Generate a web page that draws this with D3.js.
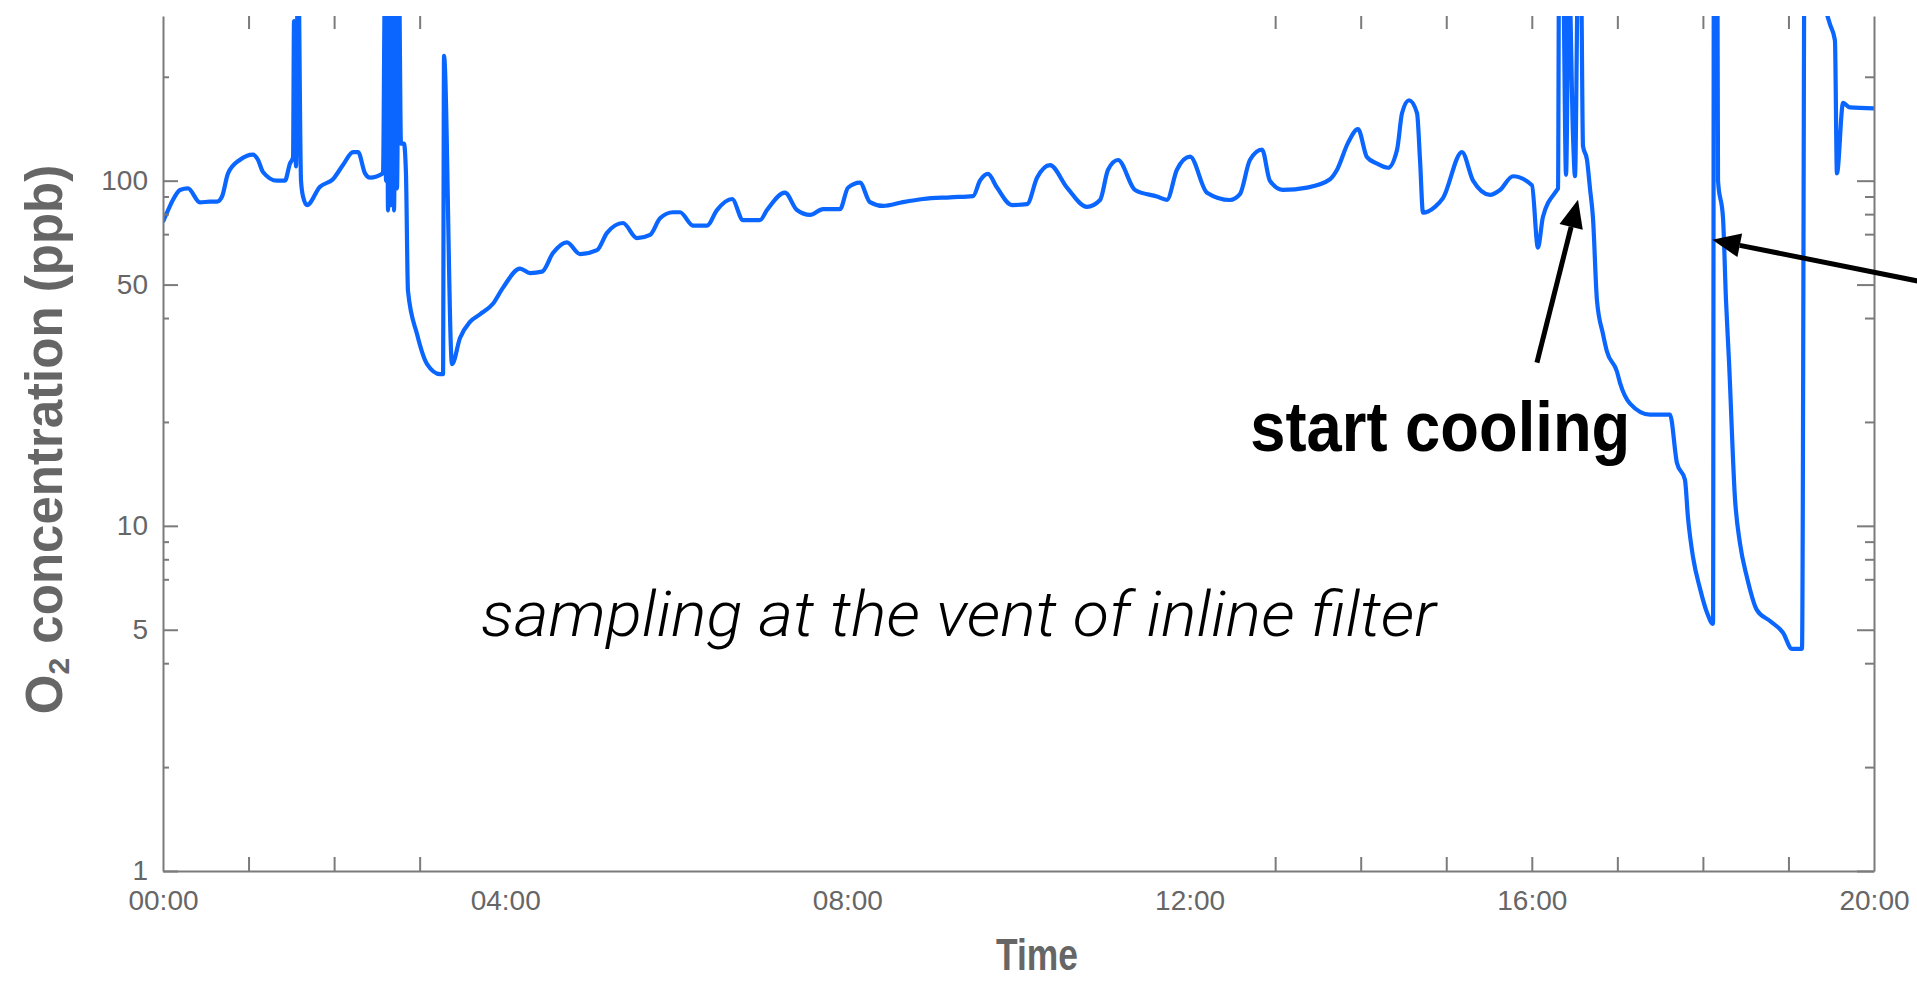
<!DOCTYPE html>
<html>
<head>
<meta charset="utf-8">
<script src="https://cdn.jsdelivr.net/npm/d3@7"></script>
<style>
  body { margin: 0; background: #fff; }
</style>
</head>
<body>
<div id="d3-container"></div>
<script>
// minutes since 00:00
const timeMin = [
  0, 3.5, 7.0, 11.9, 17.5, 25.9, 32.9, 37.9, 41.4, 45.6, 54.0, 63.1, 66.6, 70.1, 79.9, 85.5, 89.0, 91.2,
  91.9, 93.3, 94.7, 96.8, 98.2, 101.0, 110.1, 119.2, 126.2, 133.3, 136.8, 141.7, 145.2, 154.3,
  155.7, 156.4, 157.1, 157.8, 159.2, 159.9, 161.3, 162.0, 163.4, 164.1, 165.5, 166.9, 169.0, 170.4,
  171.8, 178.1, 185.2, 194.3, 196.4, 197.1, 202.7, 208.3, 215.3, 222.3, 231.4, 238.5, 250.4, 257.4,
  265.8, 273.5, 283.3, 292.5, 304.4, 311.4, 322.6, 332.4, 341.6, 348.6, 357.7, 362.6, 371.7, 381.5,
  388.5, 399.1, 406.8, 418.7, 423.6, 436.2, 444.6, 453.8, 462.9, 474.8, 480.4, 488.8, 495.8, 505.0,
  519.0, 533.0, 552.0, 568.1, 573.0, 578.6, 584.9, 595.4, 606.0, 613.0, 622.1, 634.0, 648.0, 657.2,
  662.8, 669.8, 681.7, 697.1, 704.1, 711.1, 720.3, 732.2, 748.3, 755.3, 762.3, 770.8, 776.3, 785.5,
  802.3, 818.5, 823.4, 831.1, 838.1, 844.4, 851.5, 859.1, 865.5, 869.0, 873.9, 879.5, 881.6, 883.7,
  892.1, 897.7, 911.0, 918.8, 930.7, 937.7, 946.8, 960.1, 964.3, 967.8, 977.7, 978.4, 979.1, 981.9,
  984.0, 986.1, 988.9, 990.3, 992.4, 994.5, 995.9, 998.7, 1000.8, 1002.9, 1005.7, 1009.9, 1012.7,
  1019.7, 1021.8, 1028.9, 1042.9, 1056.9, 1061.8, 1067.4, 1069.5, 1073.1, 1077.9, 1082.9, 1087.1,
  1087.8, 1089.9, 1090.6, 1094.1, 1096.2, 1098.3, 1102.5, 1106.0, 1110.9, 1117.9, 1127.1, 1136.2,
  1142.5, 1149.5, 1151.6, 1165.6, 1169.1, 1172.6, 1174.0, 1178.3, 1183.1, 1200.0
];

// O2 concentration, ppb
const o2ppb = [
  76, 82, 88, 94, 95, 86.5, 87, 87, 90, 105, 115, 119, 115, 106, 100, 100, 112, 117,
  290, 110, 500, 100, 90, 85, 96, 101, 111, 121, 121, 105, 102, 105,
  400, 100, 400, 82, 400, 85, 400, 82, 400, 95, 400, 128, 128, 105,
  48, 36, 29.4, 27.5, 27.5, 230, 29.4, 35, 39, 41, 44, 49, 55.6, 54,
  54.5, 61.7, 66.3, 61.3, 62.9, 70.6, 75.4, 68.2, 69.7, 77.8, 81, 81, 74.1, 74.1,
  82.2, 88.5, 76.9, 76.9, 82.2, 92.3, 82.2, 79.6, 82.7, 82.7, 95.4, 98.7, 86.7, 84.5,
  86.7, 88.5, 89.5, 90.2, 100, 104.6, 95.5, 85, 85.5, 102, 111, 95.5, 84, 87.9,
  107.6, 114.8, 94, 90, 88, 107.6, 117.4, 92.3, 87.9, 91.4, 114.8, 123, 100, 94,
  95.5, 101, 107.6, 128.7, 141, 117, 112, 109, 123, 157, 171, 157, 115, 80.8,
  84, 89, 121, 100, 91, 94, 103, 97, 64, 78.5, 94, 95, 400, 400,
  104, 400, 135, 103, 400, 400, 126, 115, 95, 78, 45, 36, 32,
  28, 26, 22.6, 21, 21, 15.2, 13.6, 10.6, 8.1, 6.6, 5.6, 5.2,
  1000, 1000, 100, 78, 45, 30, 12, 8.9, 7.1, 5.7, 5.3, 4.9,
  4.4, 4.4, 1000, 320, 284, 255, 105, 168, 163, 162
];

const hourTicks = [1, 2, 3, 13, 14, 15, 16, 17, 18, 19];
const hourLabels = [0, 4, 8, 12, 16, 20];
const ppbMajor = [1, 5, 10, 50, 100];
const ppbMinor = [2, 4, 7, 8, 9, 20, 40, 70, 80, 90, 200];

const data = timeMin.map((t, i) => ({ h: t / 60, v: o2ppb[i] }));

const width = 1917;
const height = 982;
const margin = { top: 16, bottom: 111, left: 163, right: 43 };

const axisGrey = '#7b7b7b';
const textGrey = '#666';
const lineBlue = '#0a66ff';

const svg = d3.select('#d3-container')
  .append('svg')
  .attr('width', width)
  .attr('height', height)
  .attr('viewBox', [0, 0, width, height]);

const x = d3.scaleLinear()
  .domain([0, 20])
  .range([margin.left, width - margin.right]);

const y = d3.scaleLog()
  .domain([1, 300])
  .range([height - margin.bottom, margin.top]);

svg.append('clipPath')
  .attr('id', 'plot-clip')
  .append('rect')
  .attr('x', margin.left)
  .attr('y', margin.top)
  .attr('width', width - margin.left - margin.right)
  .attr('height', height - margin.top - margin.bottom);

const line = d3.line()
  .curve(d3.curveMonotoneX)
  .x(d => x(d.h))
  .y(d => y(d.v));

svg.append('path')
  .datum(data)
  .attr('clip-path', 'url(#plot-clip)')
  .attr('fill', 'none')
  .attr('stroke', lineBlue)
  .attr('stroke-width', 4.2)
  .attr('stroke-linejoin', 'round')
  .attr('d', line);

function styleAxis(g) {
  g.attr('font-family', '"Liberation Sans", Arial, sans-serif')
    .attr('font-size', 28);
  g.selectAll('.domain, .tick line')
    .attr('stroke', axisGrey)
    .attr('stroke-width', 2);
  g.selectAll('text').attr('fill', textGrey);
}

const hhmm = h => String(h).padStart(2, '0') + ':00';

function xAxis(g) {
  g.attr('transform', `translate(0,${height - margin.bottom})`)
    .call(d3.axisBottom(x).tickValues(hourTicks).tickSize(-14).tickSizeOuter(0).tickFormat(''))
    .call(styleAxis);
}

function xLabels(g) {
  g.attr('transform', `translate(0,${height - margin.bottom})`)
    .call(d3.axisBottom(x).tickValues(hourLabels).tickSize(0).tickPadding(19).tickFormat(hhmm))
    .call(styleAxis)
    .call(g => g.select('.domain').remove());
}

function xTop(g) {
  g.attr('transform', `translate(0,${margin.top})`)
    .call(d3.axisTop(x).tickValues(hourTicks).tickSize(-13).tickFormat(''))
    .call(styleAxis)
    .call(g => g.select('.domain').remove());
}

function yAxis(g) {
  g.attr('transform', `translate(${margin.left},0)`)
    .call(d3.axisLeft(y).tickValues(ppbMajor).tickSize(-15).tickSizeOuter(0).tickPadding(15).tickFormat(d3.format('d')))
    .call(styleAxis);
  g.append('g')
    .call(d3.axisLeft(y).tickValues(ppbMinor).tickSize(-6).tickFormat(''))
    .call(styleAxis)
    .call(g => g.select('.domain').remove());
}

function yRight(g) {
  g.attr('transform', `translate(${width - margin.right},0)`)
    .call(d3.axisRight(y).tickValues(ppbMajor).tickSize(-17).tickSizeOuter(0).tickFormat(''))
    .call(styleAxis);
  g.append('g')
    .call(d3.axisRight(y).tickValues(ppbMinor).tickSize(-9).tickFormat(''))
    .call(styleAxis)
    .call(g => g.select('.domain').remove());
}

svg.append('g').call(xAxis);
svg.append('g').call(xLabels);
svg.append('g').call(xTop);
svg.append('g').call(yAxis);
svg.append('g').call(yRight);

// axis titles
svg.append('text')
  .attr('x', 1037)
  .attr('y', 970)
  .attr('text-anchor', 'middle')
  .attr('font-family', '"Liberation Sans", Arial, sans-serif')
  .attr('font-weight', 'bold')
  .attr('font-size', 45)
  .attr('textLength', 82)
  .attr('lengthAdjust', 'spacingAndGlyphs')
  .attr('fill', textGrey)
  .text('Time');

const yTitle = svg.append('text')
  .attr('transform', `translate(62,439.5) rotate(-90)`)
  .attr('text-anchor', 'middle')
  .attr('font-family', '"Liberation Sans", Arial, sans-serif')
  .attr('font-weight', 'bold')
  .attr('font-size', 51)
  .attr('fill', textGrey);
yTitle.append('tspan').text('O');
yTitle.append('tspan').attr('font-size', 30).attr('dy', 7).text('2');
yTitle.append('tspan').attr('dy', -7).text(' concentration (ppb)');

// annotations
const notes = [
  { text: 'start cooling', h: 14.93, v: 16.5 },
  { text: 'sampling at the vent of inline filter', h: 9.30, v: 4.8 }
];
const arrows = [
  { from: [16.06, 29.7], to: [16.54, 88.1] },
  { from: [21.0, 48.4], to: [18.11, 67.4] }
];

svg.append('text')
  .attr('x', x(notes[0].h))
  .attr('y', y(notes[0].v))
  .attr('text-anchor', 'middle')
  .attr('font-family', '"Liberation Sans", Arial, sans-serif')
  .attr('font-weight', 'bold')
  .attr('font-size', 70)
  .attr('textLength', 380)
  .attr('lengthAdjust', 'spacingAndGlyphs')
  .attr('fill', '#000')
  .text(notes[0].text);

svg.append('text')
  .attr('x', x(notes[1].h))
  .attr('y', y(notes[1].v))
  .attr('text-anchor', 'middle')
  .attr('font-family', 'Roboto, Lato, sans-serif')
  .attr('font-weight', 300)
  .attr('font-style', 'italic')
  .attr('font-size', 62)
  .attr('textLength', 955)
  .attr('lengthAdjust', 'spacingAndGlyphs')
  .attr('fill', '#000')
  .text(notes[1].text);

function arrow(g, a) {
  const x0 = x(a.from[0]), y0 = y(a.from[1]);
  const x1 = x(a.to[0]), y1 = y(a.to[1]);
  const ang = Math.atan2(y1 - y0, x1 - x0);
  const len = 28, half = 12;
  const bx = x1 - len * Math.cos(ang), by = y1 - len * Math.sin(ang);
  g.append('line')
    .attr('x1', x0).attr('y1', y0)
    .attr('x2', bx).attr('y2', by)
    .attr('stroke', '#000')
    .attr('stroke-width', 5);
  g.append('path')
    .attr('d', `M${x1},${y1}L${bx - half * Math.sin(ang)},${by + half * Math.cos(ang)}L${bx + half * Math.sin(ang)},${by - half * Math.cos(ang)}Z`)
    .attr('fill', '#000');
}

const arrowLayer = svg.append('g');
arrows.forEach(a => arrow(arrowLayer, a));

svg.node();
</script>
</body>
</html>
